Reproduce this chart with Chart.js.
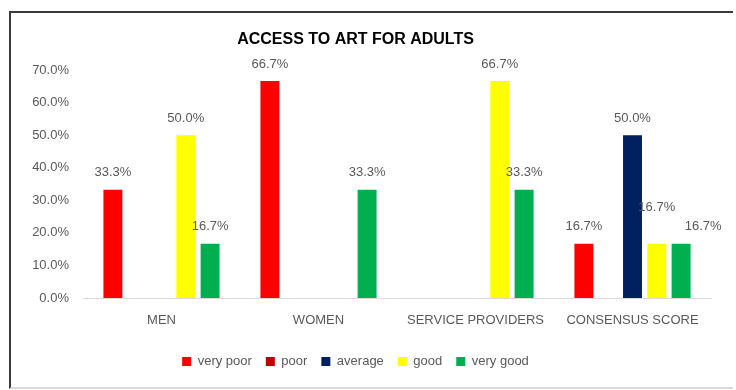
<!DOCTYPE html>
<html>
<head>
<meta charset="utf-8">
<script src="https://cdn.jsdelivr.net/npm/chart.js@4.4.1/dist/chart.umd.min.js"></script>
<style>
  body { margin: 0; background: #fff; }
  #wrap { position: relative; width: 736px; height: 390px; }
  #frame {
    position: absolute; left: 9px; top: 11px; width: 722px; height: 374px;
    border-left: 2px solid #3a3a3a; border-top: 2px solid #3a3a3a;
    border-bottom: 2px solid #d9d9d9; pointer-events: none;
  }
</style>
</head>
<body>
<div id="wrap">
  <canvas id="chart" width="736" height="390"></canvas>
  <div id="frame"></div>
</div>
<script>
const categories = ['MEN', 'WOMEN', 'SERVICE PROVIDERS', 'CONSENSUS SCORE'];
const veryPoor = [33.3, 66.7, 0, 16.7];
const poor = [0, 0, 0, 0];
const average = [0, 0, 0, 50.0];
const good = [50.0, 0, 66.7, 16.7];
const veryGood = [16.7, 33.3, 33.3, 16.7];
const yTicks = [0, 10, 20, 30, 40, 50, 60, 70];

const grey = '#595959';
const font = 'Liberation Sans, Arial, sans-serif';

// labels above the bars, skipping zeros; Excel nudged two labels in the last group
const nudges = { '3-3': [0, -19], '4-3': [22, 0] };
const barLabels = {
    id: 'barLabels',
    afterDatasetsDraw(chart) {
        const ctx = chart.ctx;
        ctx.save();
        ctx.font = '13px ' + font;
        ctx.fillStyle = grey;
        ctx.textAlign = 'center';
        ctx.textBaseline = 'middle';
        chart.data.datasets.forEach((ds, i) => {
            chart.getDatasetMeta(i).data.forEach((bar, j) => {
                const v = ds.data[j];
                if (!v) return;
                const n = nudges[i + '-' + j] || [0, 0];
                ctx.fillText(v.toFixed(1) + '%', bar.x + n[0], bar.y - 17 + n[1]);
            });
        });
        ctx.restore();
    }
};

new Chart(document.getElementById('chart'), {
    type: 'bar',
    data: {
        labels: categories,
        datasets: [
            { label: 'very poor', data: veryPoor, backgroundColor: '#FF0000' },
            { label: 'poor', data: poor, backgroundColor: '#C00000' },
            { label: 'average', data: average, backgroundColor: '#002060' },
            { label: 'good', data: good, backgroundColor: '#FFFF00' },
            { label: 'very good', data: veryGood, backgroundColor: '#00B050' }
        ]
    },
    options: {
        responsive: false,
        animation: false,
        events: [],
        categoryPercentage: 0.774,
        barPercentage: 0.78,
        layout: { padding: { left: 0, right: 25, top: 0, bottom: 12 } },
        scales: {
            x: {
                grid: { display: false, drawTicks: false },
                border: { color: '#d9d9d9', width: 1 },
                ticks: { color: grey, font: { family: font, size: 13 }, padding: 15 },
                afterFit: s => { s.height = 43; }
            },
            y: {
                min: 0,
                max: 70,
                afterBuildTicks: s => { s.ticks = yTicks.map(v => ({ value: v })); },
                grid: { display: false, drawTicks: false },
                border: { display: false },
                ticks: {
                    color: grey, font: { family: font, size: 13 }, padding: 14,
                    callback: v => v.toFixed(1) + '%'
                },
                afterFit: s => { s.width = 83; }
            }
        },
        plugins: {
            title: {
                display: true,
                text: 'ACCESS TO ART FOR ADULTS',
                color: '#000',
                font: { family: font, size: 16, weight: 'bold' },
                padding: { top: 30, bottom: 21 }
            },
            legend: {
                position: 'bottom',
                labels: {
                    color: grey,
                    font: { family: font, size: 13 },
                    boxWidth: 9,
                    boxHeight: 9,
                    padding: 14
                }
            },
            tooltip: { enabled: false }
        }
    },
    plugins: [barLabels]
});
</script>
</body>
</html>
